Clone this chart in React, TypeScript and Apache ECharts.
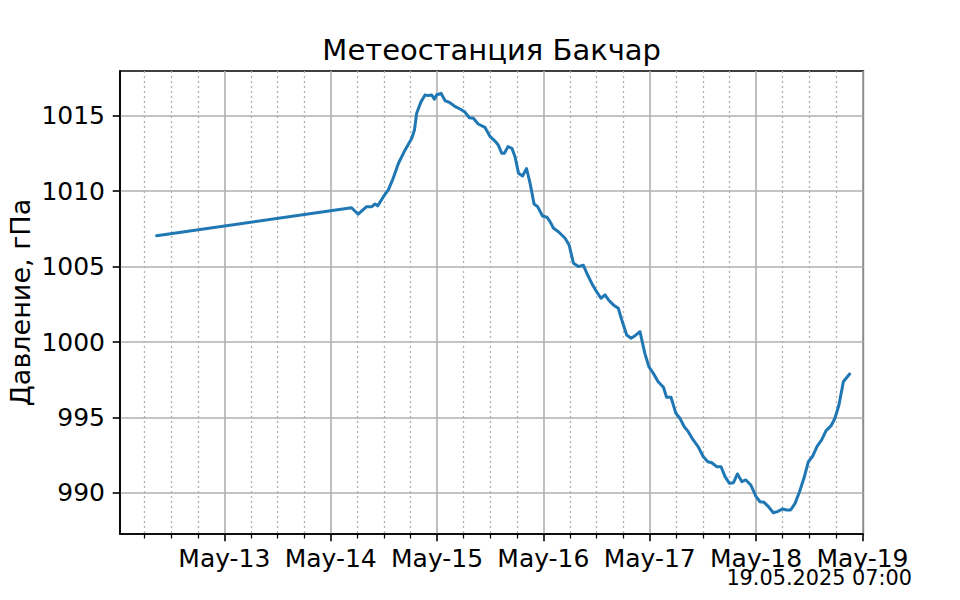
import React, { useEffect, useRef } from "react";
import * as echarts from "echarts";

// Time in hours since 2025-05-12 00:00 and station pressure, hPa
const hours = [
  8.7, 52.7, 54.2, 56.1, 57.3, 58.0, 58.6, 59.9, 61.0, 62.1, 63.3, 64.8, 66.3, 66.9, 67.4,
  68.4, 69.3, 70.0, 70.8, 71.4, 71.9, 72.9, 73.8, 74.9, 76.1, 77.2, 78.3, 79.3, 80.2,
  81.3, 82.8, 84.0, 85.2, 85.8, 86.6, 87.2, 88.0, 88.9, 89.6, 90.4, 91.3, 92.2, 93.0,
  93.9, 94.7, 95.8, 96.8, 97.5, 98.3, 99.4, 100.9, 101.8, 102.8, 103.9, 105.0, 105.8,
  106.9, 108.0, 109.0, 109.9, 110.7, 111.8, 112.9, 113.7, 114.8, 115.8, 116.7, 117.8,
  118.9, 119.8, 120.8, 121.9, 123.1, 123.8, 124.8, 125.9, 126.8, 127.8, 128.7, 129.8,
  131.0, 132.1, 133.1, 134.0, 135.1, 136.1, 137.0, 138.0, 138.9, 139.8, 140.8, 141.7,
  142.8, 144.0, 144.9, 145.8, 146.8, 147.9, 148.8, 150.0, 150.9, 151.8, 152.8, 153.8,
  154.8, 155.8, 156.8, 157.8, 158.8, 159.8, 160.9, 161.8, 162.7, 163.7, 165.1,
];
const pressure = [
  1007.05, 1008.9, 1008.47, 1008.97, 1008.97, 1009.15, 1009.02, 1009.63, 1010.08, 1010.85,
  1011.85, 1012.73, 1013.5, 1014.05, 1015.16, 1015.93, 1016.37, 1016.33, 1016.37, 1016.09,
  1016.37, 1016.48, 1016.0, 1015.86, 1015.6, 1015.44, 1015.24, 1014.86, 1014.83,
  1014.45, 1014.23, 1013.61, 1013.28, 1013.06, 1012.51, 1012.51, 1012.95, 1012.84, 1012.28,
  1011.18, 1011.0, 1011.5, 1010.52, 1009.15, 1008.97, 1008.35, 1008.27, 1007.98, 1007.54,
  1007.31, 1006.88, 1006.43, 1005.22, 1005.0, 1005.09, 1004.56, 1003.9, 1003.34, 1002.9,
  1003.12, 1002.79, 1002.46, 1002.24, 1001.46, 1000.47, 1000.25, 1000.42, 1000.69, 999.25,
  998.37, 997.93, 997.37, 997.0, 996.34, 996.34, 995.28, 994.95, 994.39, 994.06, 993.51,
  993.03, 992.4, 992.07, 992.0, 991.74, 991.74, 991.08, 990.64, 990.68, 991.26, 990.75,
  990.86, 990.53, 989.76, 989.42, 989.38, 989.09, 988.69, 988.76, 988.94, 988.87, 988.87,
  989.31, 990.08, 990.97, 992.07, 992.45, 993.11, 993.51, 994.13, 994.44, 994.95, 995.83,
  997.37, 997.88,
];

// Axis ticks
const dayTicks = [24, 48, 72, 96, 120, 144, 168];
const dayTickLabels = ["May-13", "May-14", "May-15", "May-16", "May-17", "May-18", "May-19"];
const minorTicks = [
  6, 12, 18, 30, 36, 42, 54, 60, 66, 78, 84, 90, 102, 108, 114, 126, 132, 138, 150, 156, 162,
];
const yTicks = [990, 995, 1000, 1005, 1010, 1015];

const TITLE = "Метеостанция Бакчар";
const Y_NAME = "Давление, гПа";
const STAMP = "19.05.2025 07:00";

const X_MIN = 0.45;
const X_MAX = 168.2;
const Y_MIN = 987.28;
const Y_MAX = 1017.96;

const FONT = "DejaVu Sans";

export default function App() {
  const ref = useRef<HTMLDivElement>(null);

  useEffect(() => {
    if (!ref.current) return;
    const chart = echarts.init(ref.current, undefined, { renderer: "svg" });
    const fmt = (v: number) => {
      const i = dayTicks.indexOf(Math.round(v));
      return i >= 0 ? dayTickLabels[i] : "";
    };
    chart.setOption({
      animation: false,
      backgroundColor: "#ffffff",
      textStyle: { fontFamily: FONT },
      grid: {
        left: 120,
        right: 96.7,
        top: 71,
        bottom: 66,
        show: true,
        borderColor: "#000",
        borderWidth: 1.6,
        backgroundColor: "transparent",
        containLabel: false,
      },
      xAxis: [
        {
          type: "value",
          min: X_MIN,
          max: X_MAX,
          position: "bottom",
          axisLine: { show: true, onZero: false, lineStyle: { color: "#000", width: 1.6 } },
          axisTick: {
            show: true,
            length: 7.3,
            customValues: dayTicks,
            lineStyle: { color: "#000", width: 1.6 },
          },
          axisLabel: {
            show: true,
            customValues: dayTicks,
            formatter: fmt,
            fontSize: 25,
            fontFamily: FONT,
            color: "#000",
            margin: 12,
          },
          splitLine: { show: true, lineStyle: { color: "#b0b0b0", width: 1.6 } },
          minorTick: { show: false },
          minorSplitLine: { show: false },
        },
        {
          type: "value",
          min: X_MIN,
          max: X_MAX,
          position: "bottom",
          axisLine: { show: false, onZero: false },
          axisTick: {
            show: true,
            length: 4.5,
            customValues: minorTicks,
            lineStyle: { color: "#000", width: 1.25 },
          },
          axisLabel: { show: false },
          splitLine: {
            show: true,
            lineStyle: { color: "#b0b0b0", width: 1.3, type: [2, 3] },
          },
        },
      ],
      yAxis: {
        type: "value",
        min: Y_MIN,
        max: Y_MAX,
        axisLine: { show: true, onZero: false, lineStyle: { color: "#000", width: 1.6 } },
        axisTick: {
          show: true,
          length: 7.3,
          customValues: yTicks,
          lineStyle: { color: "#000", width: 1.6 },
        },
        axisLabel: {
          show: true,
          customValues: yTicks,
          formatter: (v: number) => String(Math.round(v)),
          fontSize: 25,
          fontFamily: FONT,
          color: "#000",
          margin: 15,
        },
        splitLine: { show: true, lineStyle: { color: "#b0b0b0", width: 1.6 } },
      },
      series: [
        {
          type: "line",
          xAxisIndex: 0,
          yAxisIndex: 0,
          data: hours.map((h, i) => [h, pressure[i]]),
          showSymbol: false,
          symbol: "none",
          lineStyle: { color: "#1f77b4", width: 3, join: "round", cap: "round" },
          z: 5,
        },
      ],
      graphic: [
        {
          type: "text",
          x: 491.7,
          y: 49.6,
          style: {
            text: TITLE,
            fontSize: 29,
            fontFamily: FONT,
            fill: "#000",
            align: "center",
            verticalAlign: "middle",
          },
        },
        {
          type: "text",
          x: 20,
          y: 302.5,
          rotation: Math.PI / 2,
          style: {
            text: Y_NAME,
            fontSize: 27,
            fontFamily: FONT,
            fill: "#000",
            align: "center",
            verticalAlign: "middle",
          },
        },
        {
          type: "text",
          x: 912,
          y: 578,
          style: {
            text: STAMP,
            fontSize: 20.8,
            fontFamily: FONT,
            fill: "#000",
            align: "right",
            verticalAlign: "middle",
          },
        },
      ],
    });
    return () => chart.dispose();
  }, []);

  return (
    <div
      ref={ref}
      style={{ position: "absolute", left: 0, top: 0, width: 960, height: 600 }}
    />
  );
}
